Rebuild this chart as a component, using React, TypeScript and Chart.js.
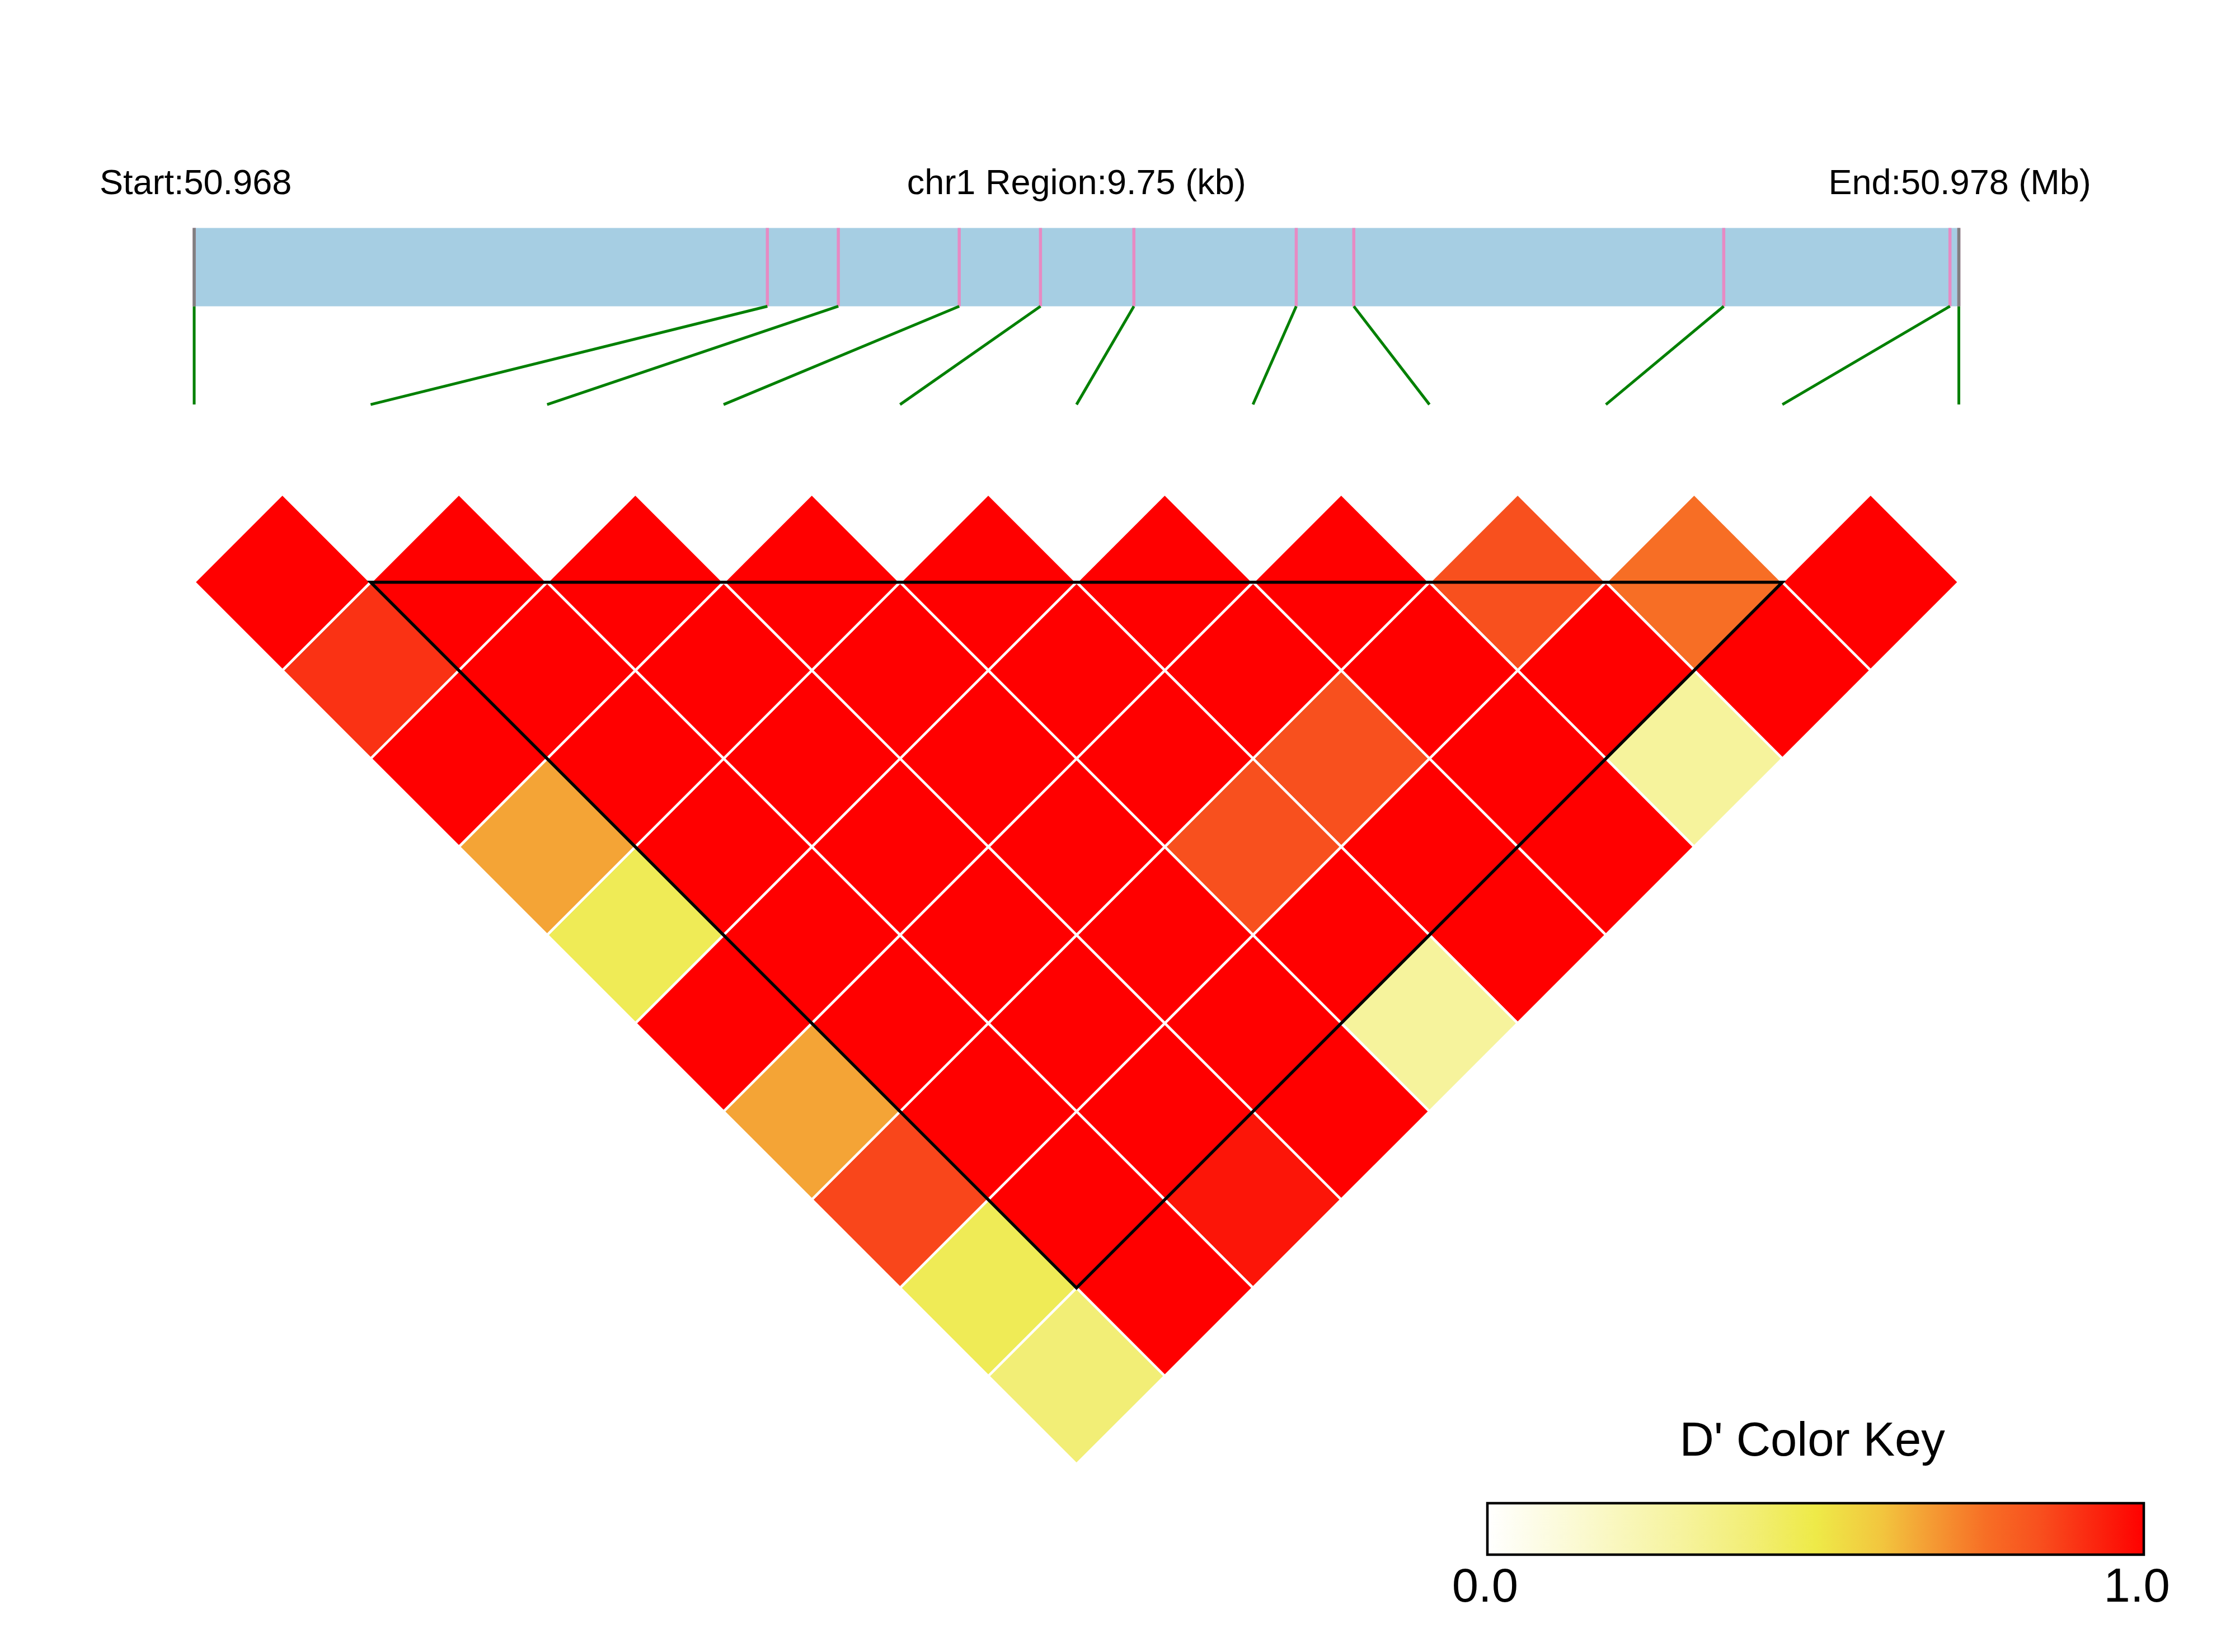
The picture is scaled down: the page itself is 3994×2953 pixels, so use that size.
import React, { useEffect, useRef } from 'react';
import { Chart, registerables } from 'chart.js';

Chart.register(...registerables);

// ---------------- data ----------------
const CHROM = 'chr1';
// SNP physical positions (bp)
const SNP_POS_BP = [
  50968010, 50971177, 50971569, 50972237, 50972686, 50973202,
  50974099, 50974417, 50976461, 50977711, 50977760,
];
// LD block (SNP indices, inclusive)
const BLOCK_SNPS = [1, 9];
// D' values: row i holds pairs (i, j) for j = i+1 .. last
const DPRIME_ROWS: number[][] = [
  [1.0, 0.9, 1.0, 0.66, 0.47, 1.0, 0.66, 0.86, 0.47, 0.4],
  [1.0, 1.0, 1.0, 1.0, 1.0, 1.0, 1.0, 1.0, 1.0],
  [1.0, 1.0, 1.0, 1.0, 1.0, 1.0, 1.0, 0.96],
  [1.0, 1.0, 1.0, 1.0, 1.0, 1.0, 1.0],
  [1.0, 1.0, 1.0, 0.84, 1.0, 0.3],
  [1.0, 1.0, 0.84, 1.0, 1.0],
  [1.0, 1.0, 1.0, 1.0],
  [0.84, 1.0, 0.3],
  [0.76, 1.0],
  [1.0],
];
// colour key ramp
const RAMP_STOPS = [0, 0.3, 0.4, 0.5, 0.6, 0.66, 0.76, 0.84, 0.9, 0.96, 1];
const RAMP_COLORS = [
  '#FFFFFF', '#F6F39C', '#F2EE76', '#EEEA48', '#F2C63E', '#F4A436',
  '#F76E25', '#F8501E', '#FA3214', '#FC1508', '#FF0000',
];
const KEY_TICKS = [0, 1];
const KEY_TICK_LABELS = ['0.0', '1.0'];
const KEY_TITLE = "D' Color Key";

// ---------------- layout ----------------
const W = 3994;
const H = 2953;
const UNIT = 315.35; // px per SNP step
const X0 = 347; // px of first SNP
const Y0 = 883; // px of heatmap top row
const XMIN = -X0 / UNIT;
const XMAX = (W - X0) / UNIT;
const YMAX = Y0 / UNIT;
const YMIN = -(H - Y0) / UNIT;
const KEY_L = 2658;
const KEY_R = 3831;
const KEY_MIN = -KEY_L / (KEY_R - KEY_L);
const KEY_MAX = (W - KEY_L) / (KEY_R - KEY_L);

const BAR_TOP = 1.508;
const BAR_BOTTOM = 1.064;
const LINK_BOTTOM = 0.507;
const HEADER_Y = 1.7;
const HEADER_START_X = -0.536;
const HEADER_END_X = 10.749;
const KEY_TOP = -5.721;
const KEY_BOTTOM = -6.012;
const KEY_TITLE_Y = -5.451;
const KEY_LABEL_Y = -6.279;
const KEY_LABEL_SHIFT = -0.007;

const FONT = '"Liberation Sans", Arimo, Arial, Helvetica, sans-serif';

function hexToRgb(h: string): number[] {
  const s = h.replace('#', '');
  return [0, 2, 4].map((k) => parseInt(s.slice(k, k + 2), 16));
}

function rampColor(v: number): string {
  const t = Math.max(0, Math.min(1, v));
  for (let k = 1; k < RAMP_STOPS.length; k++) {
    if (t <= RAMP_STOPS[k]) {
      const a = RAMP_STOPS[k - 1];
      const b = RAMP_STOPS[k];
      const f = (t - a) / (b - a);
      const c0 = hexToRgb(RAMP_COLORS[k - 1]);
      const c1 = hexToRgb(RAMP_COLORS[k]);
      const c = c0.map((x, n) => Math.round(x + (c1[n] - x) * f));
      return `rgb(${c.join(',')})`;
    }
  }
  return RAMP_COLORS[RAMP_COLORS.length - 1];
}

const nSnp = SNP_POS_BP.length;
const first = SNP_POS_BP[0];
const last = SNP_POS_BP[nSnp - 1];
const physX = (p: number) => ((p - first) / (last - first)) * (nSnp - 1);

function keyGradient(c: any) {
  const chart = c.chart;
  const s = chart && chart.scales && chart.scales.xKey;
  if (!s) return RAMP_COLORS[5];
  const a = s.getPixelForValue(KEY_TICKS[0]);
  const b = s.getPixelForValue(KEY_TICKS[1]);
  if (!Number.isFinite(a) || !Number.isFinite(b) || a === b) return RAMP_COLORS[5];
  const g = chart.ctx.createLinearGradient(a, 0, b, 0);
  RAMP_STOPS.forEach((st, k) => g.addColorStop(st, RAMP_COLORS[k]));
  return g;
}

function buildDatasets() {
  const ds: any[] = [];
  const base = {
    type: 'line',
    xAxisID: 'x',
    yAxisID: 'y',
    pointRadius: 0,
    pointHoverRadius: 0,
    tension: 0,
  };

  // gene region bar
  ds.push({
    ...base,
    order: 20,
    data: [
      { x: 0, y: BAR_TOP },
      { x: nSnp - 1, y: BAR_TOP },
      { x: nSnp - 1, y: BAR_BOTTOM },
      { x: 0, y: BAR_BOTTOM },
      { x: 0, y: BAR_TOP },
    ],
    fill: 'shape',
    backgroundColor: '#A6CEE3',
    borderWidth: 0,
  });

  // SNP ticks on the bar and links to the heatmap
  SNP_POS_BP.forEach((p, i) => {
    const px = physX(p);
    ds.push({
      ...base,
      order: 18,
      data: [
        { x: px, y: BAR_TOP },
        { x: px, y: BAR_BOTTOM },
      ],
      borderColor: '#E78AC3',
      borderWidth: 5.5,
      fill: false,
    });
    ds.push({
      ...base,
      order: 17,
      data: [
        { x: px, y: BAR_BOTTOM },
        { x: i, y: LINK_BOTTOM },
      ],
      borderColor: '#008000',
      borderWidth: 5,
      fill: false,
    });
  });
  // region end marks
  [0, nSnp - 1].forEach((e) => {
    ds.push({
      ...base,
      order: 16,
      data: [
        { x: e, y: BAR_TOP },
        { x: e, y: BAR_BOTTOM },
      ],
      borderColor: '#808080',
      borderWidth: 5.5,
      fill: false,
    });
  });

  // LD heatmap cells
  DPRIME_ROWS.forEach((row, i) => {
    row.forEach((v, k) => {
      const j = i + 1 + k;
      const cx = (i + j) / 2;
      const cy = -(j - i) / 2;
      ds.push({
        ...base,
        order: 10,
        data: [
          { x: cx, y: cy + 0.5 },
          { x: cx + 0.5, y: cy },
          { x: cx, y: cy - 0.5 },
          { x: cx - 0.5, y: cy },
          { x: cx, y: cy + 0.5 },
          { x: cx + 0.5, y: cy },
        ],
        fill: 'shape',
        backgroundColor: rampColor(v),
        borderColor: '#FFFFFF',
        borderWidth: 4.5,
        borderJoinStyle: 'miter',
      });
    });
  });

  // LD block outline
  const [bs, be] = BLOCK_SNPS;
  ds.push({
    ...base,
    order: 2,
    data: [
      { x: bs, y: -0.5 },
      { x: be, y: -0.5 },
      { x: (bs + be) / 2, y: -0.5 - (be - bs) / 2 },
      { x: bs, y: -0.5 },
      { x: be, y: -0.5 },
    ],
    borderColor: '#000000',
    borderWidth: 5.5,
    borderJoinStyle: 'miter',
    fill: false,
  });

  // colour key
  const keyRect = [
    { x: KEY_TICKS[0], y: KEY_TOP },
    { x: KEY_TICKS[1], y: KEY_TOP },
    { x: KEY_TICKS[1], y: KEY_BOTTOM },
    { x: KEY_TICKS[0], y: KEY_BOTTOM },
    { x: KEY_TICKS[0], y: KEY_TOP },
  ];
  ds.push({
    ...base,
    xAxisID: 'xKey',
    order: 10,
    data: keyRect,
    fill: 'shape',
    borderWidth: 0,
    backgroundColor: keyGradient,
  });
  ds.push({
    ...base,
    xAxisID: 'xKey',
    order: 2,
    data: [...keyRect, { x: KEY_TICKS[1], y: KEY_TOP }],
    fill: false,
    borderColor: '#000000',
    borderWidth: 4.5,
    borderJoinStyle: 'miter',
  });
  return ds;
}

const textPlugin = {
  id: 'ldText',
  afterDatasetsDraw(chart: any) {
    const { ctx, scales } = chart;
    const x = scales.x;
    const y = scales.y;
    const xk = scales.xKey;
    ctx.save();
    ctx.fillStyle = '#000000';
    ctx.textBaseline = 'alphabetic';
    ctx.font = `63px ${FONT}`;
    const hy = y.getPixelForValue(HEADER_Y);
    ctx.textAlign = 'left';
    ctx.fillText(`Start:${(first / 1e6).toFixed(3)}`, x.getPixelForValue(HEADER_START_X), hy);
    ctx.textAlign = 'center';
    ctx.fillText(
      `${CHROM} Region:${((last - first) / 1000).toFixed(2)} (kb)`,
      x.getPixelForValue((nSnp - 1) / 2),
      hy,
    );
    ctx.textAlign = 'right';
    ctx.fillText(`End:${(last / 1e6).toFixed(3)} (Mb)`, x.getPixelForValue(HEADER_END_X), hy);

    ctx.font = `85px ${FONT}`;
    ctx.textAlign = 'center';
    ctx.fillText(KEY_TITLE, xk.getPixelForValue(0.495), y.getPixelForValue(KEY_TITLE_Y));
    KEY_TICKS.forEach((t, k) => {
      ctx.fillText(
        KEY_TICK_LABELS[k],
        xk.getPixelForValue(t + KEY_LABEL_SHIFT * (k === 0 ? 0.5 : 1.5)),
        y.getPixelForValue(KEY_LABEL_Y),
      );
    });
    ctx.restore();
  },
};

export default function App() {
  const ref = useRef<HTMLCanvasElement | null>(null);
  useEffect(() => {
    if (!ref.current) return;
    const chart = new Chart(ref.current, {
      type: 'line',
      data: { datasets: buildDatasets() },
      options: {
        animation: false,
        responsive: false,
        maintainAspectRatio: false,
        devicePixelRatio: 1,
        events: [],
        layout: { padding: 0 },
        plugins: {
          legend: { display: false },
          tooltip: { enabled: false },
          title: { display: false },
        },
        scales: {
          x: { type: 'linear', axis: 'x', position: 'bottom', min: XMIN, max: XMAX, display: false },
          xKey: { type: 'linear', axis: 'x', position: 'bottom', min: KEY_MIN, max: KEY_MAX, display: false },
          y: { type: 'linear', axis: 'y', position: 'left', min: YMIN, max: YMAX, display: false },
        },
      } as any,
      plugins: [textPlugin],
    } as any);
    return () => chart.destroy();
  }, []);
  return (
    <div style={{ position: 'absolute', left: 0, top: 0, width: W, height: H, background: '#FFFFFF' }}>
      <canvas ref={ref} width={W} height={H} style={{ display: 'block', width: W, height: H }} />
    </div>
  );
}
